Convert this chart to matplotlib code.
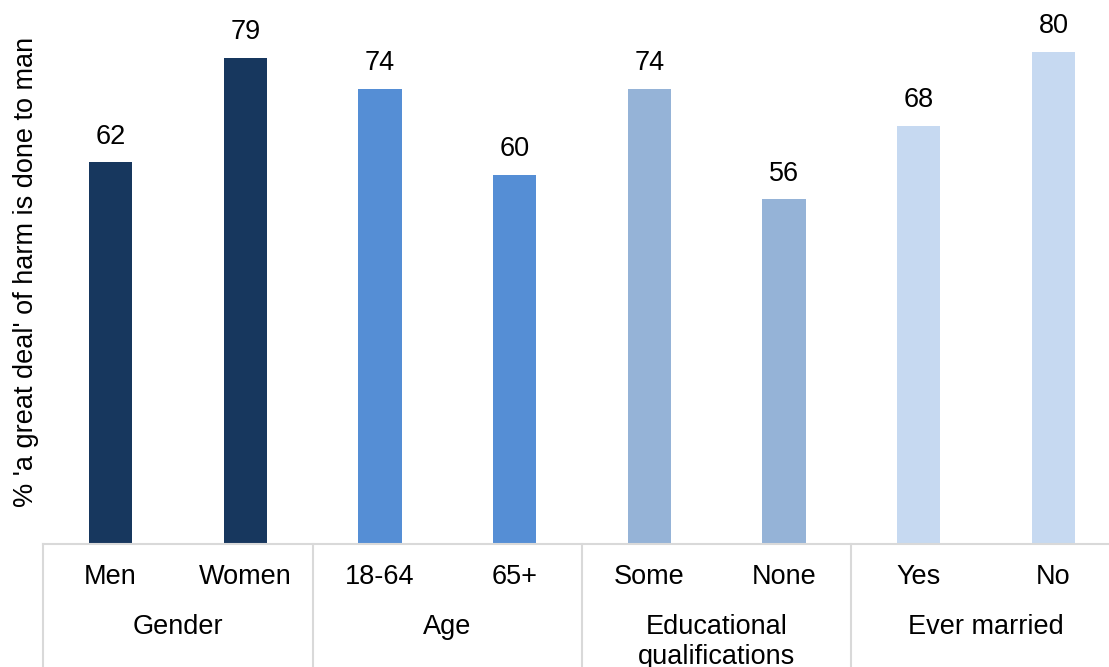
import matplotlib.pyplot as plt
import matplotlib.transforms as mtransforms

plt.rcParams['font.family'] = ['Liberation Sans', 'DejaVu Sans']

# data
categories = ['Men', 'Women', '18-64', '65+', 'Some', 'None', 'Yes', 'No']
values = [62, 79, 74, 60, 74, 56, 68, 80]
groups = ['Gender', 'Age', 'Educational\nqualifications', 'Ever married']
group_colors = ['#17375E', '#558ED5', '#95B3D7', '#C6D9F1']

fs = 19.5

fig = plt.figure(figsize=(11.09, 6.67), dpi=100)
# plot area runs a little past the right edge, like the original crop
ax = fig.add_axes([43.2 / 1109, 123 / 667, 1077.6 / 1109, 544 / 667])

x = list(range(len(categories)))
colors = [group_colors[i // 2] for i in x]
bars = ax.bar(x, values, width=0.32, color=colors)

for xi, v in zip(x, values):
    ax.annotate(str(v), (xi, v), xytext=(0, 9), textcoords='offset points',
                ha='center', va='bottom', fontsize=fs)

ax.set_xlim(-0.5, 7.5)
ax.set_ylim(0, 88.4)

for s in ['top', 'right', 'left']:
    ax.spines[s].set_visible(False)
ax.spines['bottom'].set_color('#D9D9D9')
ax.spines['bottom'].set_linewidth(1.5)
ax.set_yticks([])
ax.set_xticks([])

trans = mtransforms.blended_transform_factory(ax.transData, ax.transAxes)
ax_h = 544.0

# category labels
for xi, c in zip(x, categories):
    ax.text(xi, -20 / ax_h, c, transform=trans, ha='center', va='top',
            fontsize=fs, clip_on=False)

# group labels and separators
for g, name in enumerate(groups):
    ax.text(2 * g + 0.5, -70 / ax_h, name, transform=trans, ha='center',
            va='top', fontsize=fs, clip_on=False, linespacing=1.2)
for sx in [-0.5, 1.5, 3.5, 5.5, 7.5]:
    ax.plot([sx, sx], [0, -0.3], transform=trans, color='#D9D9D9',
            linewidth=1.5, clip_on=False)

ax.set_ylabel("% 'a great deal' of harm is done to man", fontsize=fs, labelpad=3)

fig.savefig('out.png', dpi=100)
